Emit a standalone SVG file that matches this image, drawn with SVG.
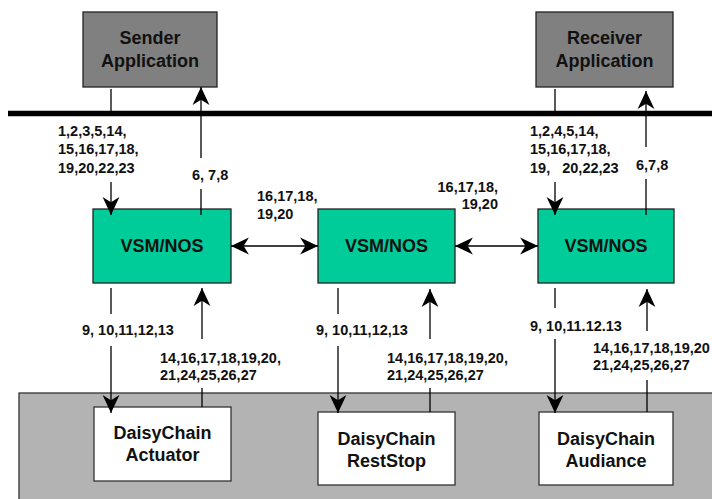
<svg xmlns="http://www.w3.org/2000/svg" width="712" height="499" viewBox="0 0 712 499">
  <defs>
    <marker id="head" markerUnits="userSpaceOnUse" markerWidth="20" markerHeight="20" refX="0" refY="0" viewBox="-18 -9 19 18" orient="auto-start-reverse" overflow="visible">
      <path d="M0,0 L-17,-8 L-12,0 L-17,8 Z" fill="#000"/>
    </marker>
    <style>
      .app { fill: #808080; stroke: #222; stroke-width: 1.3; }
      .vsm { fill: #00CC99; stroke: #222; stroke-width: 1.3; }
      .dc { fill: #fff; stroke: #333; stroke-width: 1.3; }
      .title { font-family: "Liberation Sans", Arial, sans-serif; font-weight: bold; font-size: 18px; fill: #111; text-anchor: middle; }
      .lbl { font-family: "Liberation Sans", Arial, sans-serif; font-weight: bold; font-size: 14.5px; fill: #111; }
      .ln { stroke: #000; stroke-width: 1.3; fill: none; }
      .arr { stroke: #000; stroke-width: 1.3; fill: none; marker-end: url(#head); }
      .bi { stroke: #000; stroke-width: 1.3; fill: none; marker-start: url(#head); marker-end: url(#head); }
    </style>
  </defs>

  <!-- DaisyChain layer backdrop -->
  <rect id="daisychain-layer" x="19" y="393" width="700" height="120" fill="#B3B3B3" stroke="#333" stroke-width="1.3"/>

  <!-- application boundary bar -->
  <line id="bus" x1="8" y1="113.5" x2="712" y2="113.5" stroke="#000" stroke-width="5.5"/>

  <g id="sender">
    <rect class="app" x="83" y="12" width="134" height="75"/>
    <text class="title" x="150" y="44">Sender</text>
    <text class="title" x="150" y="67">Application</text>
  </g>
  <g id="receiver">
    <rect class="app" x="536" y="12" width="137" height="75"/>
    <text class="title" x="604.5" y="44">Receiver</text>
    <text class="title" x="604.5" y="67">Application</text>
  </g>

  <g id="vsm1">
    <rect class="vsm" x="93" y="209" width="138" height="74"/>
    <text class="title" x="162" y="252">VSM/NOS</text>
  </g>
  <g id="vsm2">
    <rect class="vsm" x="318" y="209" width="137" height="74"/>
    <text class="title" x="386.5" y="252">VSM/NOS</text>
  </g>
  <g id="vsm3">
    <rect class="vsm" x="538" y="209" width="136" height="74"/>
    <text class="title" x="606" y="252">VSM/NOS</text>
  </g>

  <g id="actuator">
    <rect class="dc" x="94" y="407" width="137" height="74"/>
    <text class="title" x="162.5" y="439">DaisyChain</text>
    <text class="title" x="162.5" y="461">Actuator</text>
  </g>
  <g id="reststop">
    <rect class="dc" x="318" y="412" width="137" height="73"/>
    <text class="title" x="386.5" y="445">DaisyChain</text>
    <text class="title" x="386.5" y="467">RestStop</text>
  </g>
  <g id="audiance">
    <rect class="dc" x="539" y="412" width="134" height="73"/>
    <text class="title" x="606" y="445">DaisyChain</text>
    <text class="title" x="606" y="467">Audiance</text>
  </g>

  <g id="connectors">
    <!-- application to bus -->
    <line class="ln" x1="111" y1="89" x2="111" y2="111"/>
    <line class="ln" x1="555" y1="89" x2="555" y2="111"/>

    <!-- sender side -->
    <line class="arr" x1="111" y1="182" x2="111" y2="215"/>
    <line class="ln" x1="201" y1="215" x2="201" y2="189"/>
    <line class="arr" x1="201" y1="158" x2="201" y2="87"/>

    <!-- receiver side -->
    <line class="arr" x1="555" y1="182" x2="555" y2="215"/>
    <line class="ln" x1="646" y1="215" x2="646" y2="179"/>
    <line class="arr" x1="646" y1="147" x2="646" y2="91"/>

    <!-- VSM to VSM -->
    <line class="bi" x1="231" y1="246" x2="318" y2="246"/>
    <line class="bi" x1="455" y1="246" x2="538" y2="246"/>

    <!-- VSM 1 to Actuator -->
    <line class="ln" x1="111" y1="288" x2="111" y2="314"/>
    <line class="arr" x1="111" y1="346" x2="111" y2="413"/>
    <line class="ln" x1="202" y1="407" x2="202" y2="388"/>
    <line class="arr" x1="202" y1="339" x2="202" y2="288"/>

    <!-- VSM 2 to RestStop -->
    <line class="ln" x1="338" y1="288" x2="338" y2="314"/>
    <line class="arr" x1="338" y1="346" x2="338" y2="413"/>
    <line class="ln" x1="430" y1="412" x2="430" y2="388"/>
    <line class="arr" x1="430" y1="339" x2="430" y2="289"/>

    <!-- VSM 3 to Audiance -->
    <line class="ln" x1="555" y1="288" x2="555" y2="308"/>
    <line class="arr" x1="555" y1="339" x2="555" y2="413"/>
    <line class="ln" x1="647" y1="412" x2="647" y2="380"/>
    <line class="arr" x1="647" y1="331" x2="647" y2="289"/>
  </g>

  <g id="labels">
    <text class="lbl" x="58" y="136">1,2,3,5,14,</text>
    <text class="lbl" x="58" y="154">15,16,17,18,</text>
    <text class="lbl" x="58" y="173">19,20,22,23</text>
    <text class="lbl" x="192" y="180">6, 7,8</text>

    <text class="lbl" x="530" y="136">1,2,4,5,14,</text>
    <text class="lbl" x="530" y="154">15,16,17,18,</text>
    <text class="lbl" x="530" y="173" xml:space="preserve">19,   20,22,23</text>
    <text class="lbl" x="636" y="170">6,7,8</text>

    <text class="lbl" x="257" y="201">16,17,18,</text>
    <text class="lbl" x="257" y="219">19,20</text>
    <text class="lbl" x="498" y="192" text-anchor="end">16,17,18,</text>
    <text class="lbl" x="498" y="209" text-anchor="end">19,20</text>

    <text class="lbl" x="82" y="335">9, 10,11,12,13</text>
    <text class="lbl" x="160" y="363">14,16,17,18,19,20,</text>
    <text class="lbl" x="160" y="380">21,24,25,26,27</text>

    <text class="lbl" x="316" y="335">9, 10,11,12,13</text>
    <text class="lbl" x="387" y="363">14,16,17,18,19,20,</text>
    <text class="lbl" x="387" y="380">21,24,25,26,27</text>

    <text class="lbl" x="530" y="331">9, 10,11.12.13</text>
    <text class="lbl" x="593" y="353">14,16,17,18,19,20</text>
    <text class="lbl" x="593" y="370">21,24,25,26,27</text>
  </g>
</svg>
